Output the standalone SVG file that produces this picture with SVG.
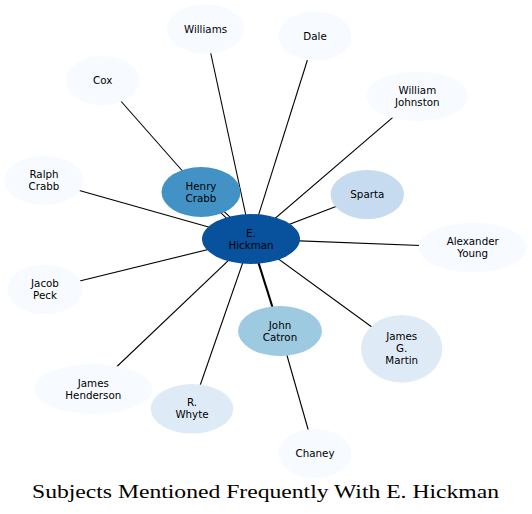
<svg xmlns="http://www.w3.org/2000/svg" width="532" height="514" viewBox="0 0 532 514">
<style>
.e{stroke:#000;stroke-width:1.1;fill:none}
.n text{font-family:"DejaVu Sans",sans-serif;font-size:10.3px;text-anchor:middle;fill:#000}
.c0{fill:#f7fbff}.c1{fill:#deebf7}.c2{fill:#c6dbef}.c3{fill:#9ecae1}.c4{fill:#4292c6}.c6{fill:#08519c}
</style>
<rect width="532" height="514" fill="#fff"/>
<g id="edges">
<line class="e" x1="205.5" y1="29" x2="251" y2="239"/>
<line class="e" x1="315" y1="36" x2="251" y2="239"/>
<line class="e" x1="417.3" y1="96.3" x2="251" y2="239"/>
<line class="e" x1="367.3" y1="194.5" x2="251" y2="239"/>
<line class="e" x1="472.7" y1="247.5" x2="251" y2="239"/>
<line class="e" x1="44" y1="180.5" x2="251" y2="239"/>
<line class="e" x1="45" y1="289.5" x2="251" y2="239"/>
<line class="e" x1="93.3" y1="389" x2="251" y2="239"/>
<line class="e" x1="192" y1="408.8" x2="251" y2="239"/>
<line class="e" x1="401.7" y1="348.8" x2="251" y2="239"/>
<line class="e" x1="199.9" y1="193.2" x2="249.9" y2="240.2"/>
<line class="e" x1="202.1" y1="190.8" x2="252.1" y2="237.8"/>
<line class="e" x1="251" y1="239" x2="280" y2="331" style="stroke-width:2.1"/>
<line class="e" x1="102.7" y1="80.5" x2="201" y2="192"/>
<line class="e" x1="315" y1="453.5" x2="280" y2="331"/>
</g>
<g id="n_williams" class="n"><ellipse class="c0" cx="205.5" cy="29" rx="38.5" ry="24.5"/><text x="205.5" y="32.5">Williams</text></g>
<g id="n_dale" class="n"><ellipse class="c0" cx="315" cy="36" rx="36.7" ry="24.5"/><text x="315" y="39.5">Dale</text></g>
<g id="n_cox" class="n"><ellipse class="c0" cx="102.7" cy="80.5" rx="36.7" ry="24.5"/><text x="102.7" y="84">Cox</text></g>
<g id="n_wjohnston" class="n"><ellipse class="c0" cx="417.3" cy="96.3" rx="50.7" ry="24.7"/><text x="417.3" y="93.8">William</text><text x="417.3" y="105.8">Johnston</text></g>
<g id="n_rcrabb" class="n"><ellipse class="c0" cx="44" cy="180.5" rx="39.3" ry="24.7"/><text x="44" y="178">Ralph</text><text x="44" y="190">Crabb</text></g>
<g id="n_hcrabb" class="n"><ellipse class="c4" cx="201" cy="192" rx="39.5" ry="25"/><text x="201" y="189.5">Henry</text><text x="201" y="201.5">Crabb</text></g>
<g id="n_sparta" class="n"><ellipse class="c2" cx="367.3" cy="194.5" rx="36.7" ry="24.5"/><text x="367.3" y="198">Sparta</text></g>
<g id="n_hickman" class="n"><ellipse class="c6" cx="251" cy="239" rx="49" ry="25"/><text x="251" y="236.5">E.</text><text x="251" y="248.5">Hickman</text></g>
<g id="n_ayoung" class="n"><ellipse class="c0" cx="472.7" cy="247.5" rx="54" ry="24.8"/><text x="472.7" y="245">Alexander</text><text x="472.7" y="257">Young</text></g>
<g id="n_jpeck" class="n"><ellipse class="c0" cx="45" cy="289.5" rx="37.7" ry="24.8"/><text x="45" y="287">Jacob</text><text x="45" y="299">Peck</text></g>
<g id="n_catron" class="n"><ellipse class="c3" cx="280" cy="331" rx="42" ry="25"/><text x="280" y="328.5">John</text><text x="280" y="340.5">Catron</text></g>
<g id="n_martin" class="n"><ellipse class="c1" cx="401.7" cy="348.8" rx="40.7" ry="33.8"/><text x="401.7" y="340.3">James</text><text x="401.7" y="352.3">G.</text><text x="401.7" y="364.3">Martin</text></g>
<g id="n_henderson" class="n"><ellipse class="c0" cx="93.3" cy="389" rx="59" ry="25"/><text x="93.3" y="386.5">James</text><text x="93.3" y="398.5">Henderson</text></g>
<g id="n_whyte" class="n"><ellipse class="c1" cx="192" cy="408.8" rx="41.3" ry="24.8"/><text x="192" y="406.3">R.</text><text x="192" y="418.3">Whyte</text></g>
<g id="n_chaney" class="n"><ellipse class="c0" cx="315" cy="453.5" rx="36.5" ry="24.5"/><text x="315" y="457">Chaney</text></g>
<text x="32" y="497.5" font-family="'Liberation Serif',serif" font-size="19" textLength="467" lengthAdjust="spacingAndGlyphs">Subjects Mentioned Frequently With E. Hickman</text>
</svg>
